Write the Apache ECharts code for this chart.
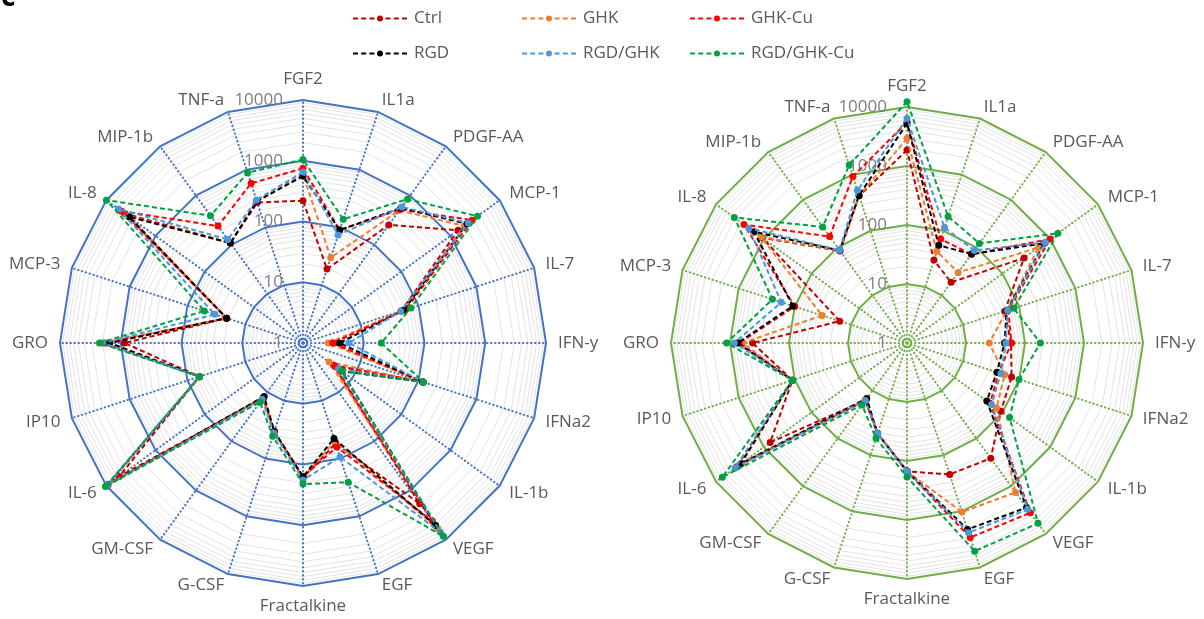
<!DOCTYPE html>
<html><head><meta charset="utf-8">
<script src="https://cdn.jsdelivr.net/npm/echarts@6/dist/echarts.min.js"></script>
<style>html,body{margin:0;padding:0;background:#fff}#c{width:1204px;height:619px}</style>
</head><body><div id="c"></div>
<script>
// Categories in clockwise order starting at the top
const categories = ['FGF2','IL1a','PDGF-AA','MCP-1','IL-7','IFN-y','IFNa2','IL-1b','VEGF','EGF','Fractalkine','G-CSF','GM-CSF','IL-6','IP10','GRO','MCP-3','IL-8','MIP-1b','TNF-a'];
const seriesNames = ['Ctrl','GHK','GHK-Cu','RGD','RGD/GHK','RGD/GHK-Cu'];
const tickLabels = ['1','10','100','1000','10000'];
const seriesColors = ['#c00000','#ed7d31','#ff0000','#000000','#4a97dc','#00a043'];

// Left panel (values, log scale)
const leftCtrl     = [220, 19, 253, 1430, 50, 3.1, 118, 4.2, 1860, 55, 165, 34, 13, 5500, 62, 870, 21, 4200, 108, 270];
const leftGHK      = [600, 30, 500, 1900, 55, 2.6, 120, 3.4, 6000, 50, 165, 34, 13, 9000, 62, 1970, 21, 3600, 108, 285];
const leftGHKCu    = [750, 90, 520, 2760, 60, 3.1, 120, 4.5, 4200, 63, 160, 34, 13, 9500, 62, 1800, 21, 4900, 240, 580];
const leftRGD      = [560, 90, 560, 2170, 55, 4.0, 118, 6.1, 5120, 45, 159, 34, 12.2, 9500, 62, 1520, 21, 3400, 108, 285];
const leftRGDGHK   = [650, 74, 585, 2300, 49, 5.7, 120, 5.3, 7100, 94, 180, 36, 14, 9500, 62, 1970, 33.6, 5700, 128, 300];
const leftRGDGHKCu = [1050, 139, 845, 3550, 74, 19.4, 122, 6.1, 8550, 257, 210, 41, 16, 10500, 62, 2240, 51, 10000, 388, 885];

// Right panel (values, log scale)
const rightCtrl     = [1860, 30, 18.7, 283, 55, 58, 73, 93, 260, 220, 150, 41, 16, 735, 110, 415, 15.8, 1080, 85, 420];
const rightGHK      = [2950, 43, 30, 570, 60, 24.8, 55, 75, 1350, 1030, 150, 41, 16, 2900, 110, 610, 32.5, 1140, 87, 420];
const rightGHKCu    = [5500, 71, 72, 1000, 64, 59, 43, 55, 3600, 2930, 150, 41, 16, 3700, 110, 700, 100, 2600, 170, 930];
const rightRGD      = [5300, 55, 73, 750, 60, 45, 40, 47, 2800, 2100, 148, 41, 14.5, 3110, 110, 745, 108, 1620, 87, 427];
const rightRGDGHK   = [6400, 114, 87, 790, 62, 47.6, 47, 59, 3030, 2400, 150, 41, 16, 4000, 110, 845, 174, 2050, 88, 525];
const rightRGDGHKCu = [12300, 180, 122, 1450, 80, 182, 99, 141, 6000, 5130, 187, 50, 19.8, 7400, 110, 1140, 250, 4150, 270, 1480];

const leftData  = [leftCtrl, leftGHK, leftGHKCu, leftRGD, leftRGDGHK, leftRGDGHKCu];
const rightData = [rightCtrl, rightGHK, rightGHKCu, rightRGD, rightRGDGHK, rightRGDGHKCu];

// ECharts places indicators counter-clockwise; map to clockwise order
const n = categories.length;
const libIdx = categories.map((_, j) => j === 0 ? 0 : n - j);
const libCats = libIdx.map(i => categories[i]);
const toLib = arr => libIdx.map(i => Math.log10(arr[i]));

const panels = [
  { center: [303, 343], radius: 243, color: '#4472c4', data: leftData },
  { center: [907, 343], radius: 236, color: '#70ad47', data: rightData }
];
const decades = tickLabels.length - 1;
const minorSteps = [2,3,4,5,6,7,8,9];

const radars = [];
const series = [];
panels.forEach((p, pi) => {
  // minor (log) grid rings
  for (let d = 0; d < decades; d++) {
    minorSteps.forEach(k => {
      radars.push({
        center: p.center, radius: p.radius * (d + Math.log10(k)) / decades,
        startAngle: 90, shape: 'polygon', splitNumber: 1, silent: true, z: 0,
        indicator: libCats.map(() => ({ name: '', min: 0, max: 1 })),
        axisName: { show: false }, axisLine: { show: false }, axisTick: { show: false }, axisLabel: { show: false },
        splitArea: { show: false },
        splitLine: { lineStyle: { color: '#e4e4e4', width: 1 } }
      });
    });
  }
  const mainIndex = radars.length;
  radars.push({
    center: p.center, radius: p.radius, startAngle: 90, shape: 'polygon', splitNumber: decades, z: 1,
    indicator: libCats.map((c, j) => ({ name: c, min: 0, max: decades, axisLabel: { show: j === 0 } })),
    nameGap: 12,
    axisName: { color: '#595959', fontSize: 17, fontFamily: 'Open Sans' },
    axisLine: { show: true, lineStyle: { color: p.color, width: 2, type: [0.5, 3.5], cap: 'round' } },
    axisTick: { show: false },
    axisLabel: { show: false, margin: 20, color: '#7f7f7f', fontSize: 17, fontFamily: 'Open Sans',
                 formatter: v => tickLabels[Math.round(v)] },
    splitArea: { show: false },
    splitLine: { lineStyle: { color: p.color, width: 2 } }
  });
  p.data.forEach((arr, si) => {
    series.push({
      type: 'radar', radarIndex: mainIndex, z: 3 + si,
      symbol: 'circle', symbolSize: 7,
      lineStyle: { color: seriesColors[si], width: 2, type: [5, 3] },
      itemStyle: { color: seriesColors[si] },
      data: [{ name: seriesNames[si], value: toLib(arr) }]
    });
  });
});

const legendIcon = 'path://M0 2h5v2H0z M8.2 2h5v2h-5z M16.4 2h5v2h-5z M32.6 2h5v2h-5z M40.8 2h5v2h-5z M49 2h5v2h-5z M24 3a3 3 0 1 0 6 0a3 3 0 1 0 -6 0z';
const legendPos = [[353, 10], [522, 10], [690, 10], [353, 45], [522, 45], [690, 45]];
const legends = seriesNames.map((nm, i) => ({
  data: [nm], left: legendPos[i][0], top: legendPos[i][1], padding: 0,
  icon: legendIcon, itemWidth: 54, itemHeight: 6,
  itemStyle: { borderWidth: 0 },
  textStyle: { color: '#595959', fontSize: 17, fontFamily: 'Open Sans', padding: [0, 0, 0, 2] },
  selectedMode: false
}));

const chart = echarts.init(document.getElementById('c'), null, { renderer: 'canvas' });
chart.setOption({
  backgroundColor: '#ffffff',
  animation: false,
  title: { text: 'c', left: -4, top: -21, textStyle: { fontSize: 28, fontWeight: 'bold', color: '#000', fontFamily: 'Open Sans' } },
  legend: legends,
  radar: radars,
  series: series
});
</script></body></html>
